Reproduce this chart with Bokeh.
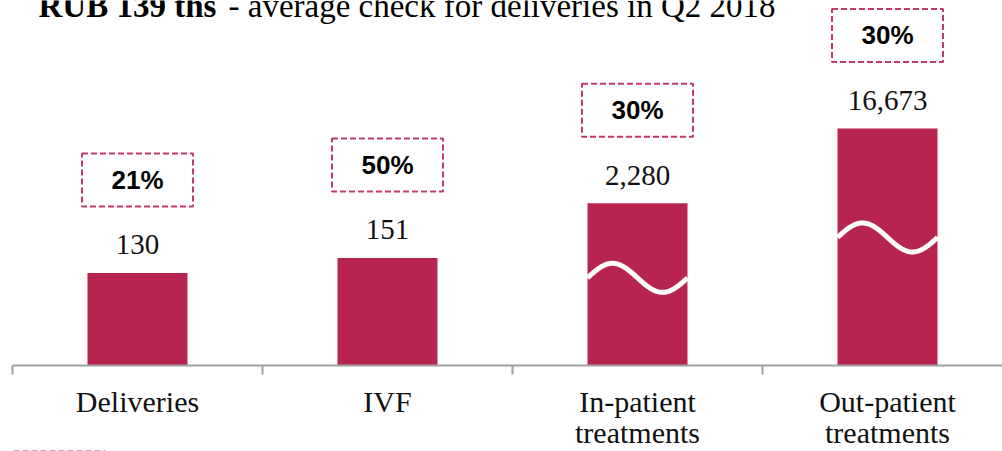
import numpy as np
from bokeh.plotting import figure
from bokeh.models import ColumnDataSource, Range1d, FixedTicker, LinearAxis
from bokeh.core.properties import value
from bokeh.embed import file_html
from bokeh.resources import INLINE

# ---------------- data ----------------
categories = ["Deliveries", "IVF", "In-patient treatments", "Out-patient treatments"]
avg_check = [130, 151, 2280, 16673]
# heights as drawn on the broken value axis (same units as the first two values)
shown_height = [130, 151, 228, 333]
axis_broken = [False, False, True, True]
shares = ["21%", "50%", "30%", "30%"]
title_bold = "RUB 139 ths"
title_rest = "- average check for deliveries in Q2 2018"

# ---------------- style ----------------
BAR = "#B82450"
DASH = "#C23A63"
AXIS = "#A0A0A0"
SERIF = "Liberation Serif"
SANS = "Liberation Sans"
PX = 0.712            # pixels per value unit
FRAME_W, FRAME_H = 990, 365
x_end = FRAME_W / 250.0
y_end = FRAME_H / PX

p = figure(frame_width=FRAME_W, frame_height=FRAME_H,
           x_range=Range1d(0, x_end), y_range=Range1d(0, y_end),
           output_backend="svg", toolbar_location=None, y_axis_location=None,
           min_border_left=12, min_border_right=0, min_border_top=8, min_border_bottom=0)
p.styles = {"margin-top": "-8px"}
p.outline_line_color = None
p.grid.visible = False
p.background_fill_color = "white"
p.border_fill_color = "white"

xc = [i + 0.5 for i in range(len(categories))]
src = ColumnDataSource(dict(x=xc, top=shown_height, val=[f"{v:,}" for v in avg_check],
                            share=shares,
                            box_y=[h + 93 / PX for h in shown_height]))

p.vbar(x="x", top="top", width=0.4, bottom=0, source=src, fill_color=BAR, line_color=None)

p.text(x="x", y="top", text="val", source=src, y_offset=-28, text_align="center",
       text_baseline="middle", text_font=value(SERIF), text_font_size="29px", text_color="#111111")

p.rect(x="x", y="box_y", width=111, height=53, width_units="screen", height_units="screen",
       source=src, fill_color=None, line_color=DASH, line_width=2, line_dash="6 3")
p.text(x="x", y="box_y", text="share", source=src, text_align="center", text_baseline="middle",
       text_font=value(SANS), text_font_size="26px", text_font_style="bold", text_color="#000000")

# axis-break waves
xs, ys = [], []
t = np.linspace(0, 1, 80)
for c, h, b in zip(xc, shown_height, axis_broken):
    if b:
        xs.append(list(c - 0.2 + 0.4 * t))
        ys.append(list(0.54 * h + (14.5 / PX) * np.sin(2 * np.pi * t)))
p.multi_line(xs=xs, ys=ys, line_color="white", line_width=5)

# title (partly cut by the top edge)
ty = (FRAME_H - 5) / PX
tx = 26 / 250.0
p.text(x=[tx], y=[ty], text=[title_bold], text_font=value(SERIF), text_font_size="33px",
       text_font_style="bold", text_baseline="alphabetic", text_align="left", text_color="#000000")
p.text(x=[tx], y=[ty], text=[title_rest], x_offset=190, text_font=value(SERIF),
       text_font_size="33px", text_baseline="alphabetic", text_align="left", text_color="#000000")

# x axis: first line of the category names
first_line = [c.split(" ")[0] for c in categories]
second_line = [" ".join(c.split(" ")[1:]) for c in categories]

ax = p.xaxis[0]
ax.ticker = FixedTicker(ticks=xc, minor_ticks=[0, 1, 2, 3])
ax.major_label_overrides = {x: c for x, c in zip(xc, first_line)}
ax.major_tick_line_color = None
ax.major_tick_out = 0
ax.major_tick_in = 0
ax.minor_tick_out = 9
ax.minor_tick_in = 0
ax.minor_tick_line_color = AXIS
ax.minor_tick_line_width = 2
ax.axis_line_color = AXIS
ax.axis_line_width = 2
ax.major_label_standoff = 10
ax.major_label_text_font = SERIF
ax.major_label_text_font_size = "30px"
ax.major_label_text_color = "#111111"

# second line of the category names
ax2 = LinearAxis(ticker=FixedTicker(ticks=[x for x, s in zip(xc, second_line) if s],
                                    minor_ticks=[]),
                 major_label_overrides={x: s for x, s in zip(xc, second_line) if s},
                 axis_line_color=None, major_tick_line_color=None, minor_tick_line_color=None,
                 major_tick_out=0, major_tick_in=0, minor_tick_out=0, minor_tick_in=0,
                 major_label_standoff=-5, major_label_text_font=SERIF,
                 major_label_text_font_size="30px", major_label_text_color="#111111")
p.add_layout(ax2, "below")

# legend box fragment at the bottom edge (dashed top border)
ax3 = LinearAxis(ticker=FixedTicker(ticks=[], minor_ticks=[]), bounds=(1 / 250.0, 93 / 250.0),
                 axis_line_color=DASH, axis_line_width=2, axis_line_dash="6 3",
                 major_tick_line_color=None, minor_tick_line_color=None,
                 major_tick_out=0, major_tick_in=0, minor_tick_out=0, minor_tick_in=0,
                 major_label_standoff=0)
p.add_layout(ax3, "below")

open("out.html", "w").write(file_html(p, INLINE))
